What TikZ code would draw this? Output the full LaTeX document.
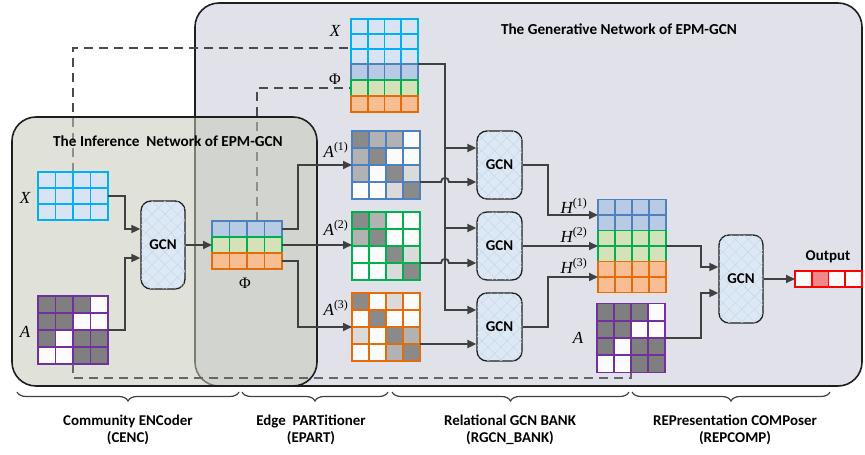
\documentclass[tikz,border=0pt]{standalone}
\usepackage{fontspec}
\setmainfont{Carlito}
\newfontfamily\tnr{Liberation Serif}
\usetikzlibrary{arrows.meta,decorations.pathreplacing,patterns.meta,calc}

\definecolor{genfill}{HTML}{E1E2E9}
\definecolor{inffill}{HTML}{C7CABA}
\definecolor{boxline}{HTML}{1F1F1F}
\definecolor{linegray}{HTML}{404040}
\definecolor{dashgray}{HTML}{4A4A4A}
\definecolor{xb}{HTML}{00B0F0}
\definecolor{xf}{HTML}{D8E4F1}
\definecolor{bb}{HTML}{4F81BD}
\definecolor{bf}{HTML}{B7CCE4}
\definecolor{gb}{HTML}{00B050}
\definecolor{gf}{HTML}{D4E2BA}
\definecolor{ob}{HTML}{E46C0A}
\definecolor{of}{HTML}{F6BE92}
\definecolor{pb}{HTML}{7030A0}
\definecolor{pg}{HTML}{7F7F7F}
\definecolor{md}{HTML}{8A8A8A}
\definecolor{mm}{HTML}{B2B2B2}
\definecolor{ml}{HTML}{DADADA}
\definecolor{mw}{HTML}{FBFBFB}
\definecolor{rb}{HTML}{FF0000}
\definecolor{rf}{HTML}{F2878A}
\definecolor{gcnfill}{HTML}{DCE8F4}
\definecolor{gcnhatch}{HTML}{C4D5E9}

\pgfdeclarelayer{genpanel}
\pgfdeclarelayer{skip}
\pgfdeclarelayer{infpanel}
\pgfsetlayers{genpanel,skip,infpanel,main}

% 4-column grid, one colour per cell (row by row)
\newcommand{\cellmat}[8]{%
  \node[inner sep=0pt, outer sep=0pt, minimum width=4*#4bp, minimum height=#6*#5bp, anchor=north west] (#1) at (#2,#3) {};
  \foreach \cc [count=\k from 0] in {#8}{%
    \pgfmathtruncatemacro{\ci}{mod(\k,4)}%
    \pgfmathtruncatemacro{\cj}{div(\k,4)}%
    \draw[cellline, draw=#7, fill=\cc] ({#2+\ci*#4},{#3+\cj*#5}) rectangle ++(#4,#5);
  }%
}
% 4-column grid with a single fill colour
\newcommand{\unimat}[8]{%
  \node[inner sep=0pt, outer sep=0pt, minimum width=4*#4bp, minimum height=#6*#5bp, anchor=north west] (#1) at (#2,#3) {};
  \foreach \ci in {0,...,3}{%
    \foreach \cj in {1,...,#6}{%
      \draw[cellline, draw=#7, fill=#8] ({#2+\ci*#4},{#3+(\cj-1)*#5}) rectangle ++(#4,#5);
    }%
  }%
}

\begin{document}
\begin{tikzpicture}[x=1bp, y=-1bp,
  cellline/.style={line width=1.6bp},
  panel/.style={draw=boxline, line width=1.6bp, rounded corners=24bp},
  gcn/.style={draw=boxline, line width=1.3bp, rounded corners=10bp, fill=gcnfill,
    inner sep=0pt, font=\fontsize{15}{15}\selectfont\bfseries,
    postaction={pattern={Lines[angle=45,distance=9pt,line width=0.4pt]}, pattern color=gcnhatch},
    postaction={pattern={Lines[angle=-45,distance=9pt,line width=0.4pt]}, pattern color=gcnhatch}},
  gcnbig/.style={gcn, minimum width=44bp, minimum height=88bp},
  gcnsmall/.style={gcn, minimum width=45bp, minimum height=68bp},
  link/.style={draw=linegray, line width=1.8bp},
  arr/.style={link, -{Triangle[length=9bp,width=8bp]}},
  dashline/.style={draw=dashgray, line width=1.7bp, dash pattern=on 9bp off 6bp},
  title/.style={font=\fontsize{15.3}{17}\selectfont\bfseries, inner sep=0pt},
  mlbl/.style={font=\fontsize{17}{17}\selectfont\tnr\itshape, inner sep=0pt},
  glbl/.style={font=\fontsize{16}{16}\selectfont\tnr, inner sep=0pt},
  stage/.style={font=\fontsize{15}{16.5}\selectfont\bfseries, align=center, inner sep=0pt},
  bracestyle/.style={draw=linegray, line width=1.2bp, decorate, decoration={brace, mirror, amplitude=9bp}}
]
\useasboundingbox (0,0) rectangle (865,455);

% generative network panel
\begin{pgfonlayer}{genpanel}
\draw[panel, fill=genfill] (195,3) rectangle (862,386);
\end{pgfonlayer}

% inference network panel
\begin{pgfonlayer}{infpanel}
\draw[panel, fill=inffill, fill opacity=0.55] (12,117) rectangle (317,386);
\end{pgfonlayer}

\node[title] (tInf) at (168,141) {The Inference\ \ Network of EPM-GCN};
\node[title] (tGen) at (619,29) {The Generative Network of EPM-GCN};

% ---- community encoder
\unimat{xL}{38}{172}{17.5}{16}{3}{xb}{xf}
\cellmat{aL}{38}{296}{17.5}{17}{4}{pb}{pg,pg,pg,mw, pg,pg,mw,mw, pg,mw,pg,pg, mw,mw,pg,pg}
\node[mlbl] (lXL) at (25,198) {X};
\node[mlbl] (lAL) at (25,332) {A};
\node[gcnbig] (gcnE) at (163,245) {GCN};

% ---- edge partitioner
\unimat{phiB}{212}{221}{17.5}{16}{1}{bb}{bf}
\unimat{phiG}{212}{237}{17.5}{16}{1}{gb}{gf}
\unimat{phiO}{212}{253}{17.5}{16}{1}{ob}{of}
\node[glbl] (lPhi) at (245,283) {Φ};

% ---- relational inputs
\unimat{xT}{351}{19}{16.75}{15}{3}{xb}{xf}
\unimat{topB}{351}{64}{16.75}{16}{1}{bb}{bf}
\unimat{topG}{351}{80}{16.75}{16}{1}{gb}{gf}
\unimat{topO}{351}{96}{16.75}{16}{1}{ob}{of}
\node[mlbl] (lXT) at (335,31) {X};
\node[glbl] (lPhiT) at (335,79) {Φ};

\cellmat{a1}{352}{131}{17}{17}{4}{bb}{md,mm,mm,mw, mm,md,mw,mw, mm,mw,md,ml, mw,mw,ml,md}
\cellmat{a2}{352}{212}{17}{17}{4}{gb}{md,mm,mw,mw, mm,md,mw,mw, mw,mw,md,ml, mw,mw,ml,md}
\cellmat{a3}{352}{293}{17}{17}{4}{ob}{md,mw,ml,mw, mw,md,mw,mw, ml,mw,md,mm, mw,mw,mm,md}
\node[mlbl] (lA1) at (336,150) {A\textsuperscript{\upshape(1)}};
\node[mlbl] (lA2) at (336,228) {A\textsuperscript{\upshape(2)}};
\node[mlbl] (lA3) at (336,308) {A\textsuperscript{\upshape(3)}};

% ---- relational GCN bank
\node[gcnsmall] (g1) at (499.5,165) {GCN};
\node[gcnsmall] (g2) at (499.5,246) {GCN};
\node[gcnsmall] (g3) at (499.5,327) {GCN};

% ---- representation composer
\unimat{hB}{598}{199.5}{17}{15.5}{2}{bb}{bf}
\unimat{hG}{598}{230.5}{17}{15.5}{2}{gb}{gf}
\unimat{hO}{598}{261.5}{17}{15.5}{2}{ob}{of}
\node[mlbl] (lH1) at (574,206) {H\textsuperscript{\upshape(1)}};
\node[mlbl] (lH2) at (574,235) {H\textsuperscript{\upshape(2)}};
\node[mlbl] (lH3) at (574,266) {H\textsuperscript{\upshape(3)}};
\cellmat{aR}{597}{303.5}{17}{17.25}{4}{pb}{pg,pg,pg,mw, pg,pg,mw,mw, pg,mw,pg,pg, mw,mw,pg,pg}
\node[mlbl] (lAR) at (578,338) {A};
\node[gcnbig] (gF) at (741,279) {GCN};
\cellmat{outv}{795}{271}{16.75}{16}{1}{rb}{mw,rf,mw,mw}
\node[title, font=\fontsize{15}{15}\selectfont\bfseries] (lOut) at (828,257) {Output};

% skip links running beneath the inference panel
\begin{pgfonlayer}{skip}
\coordinate (dT) at ($(xT.west)+(0,6.5)$);
\draw[dashline] (xL.north) |- (dT);
\draw[dashline] ($(phiB.north)+(10,0)$) |- (topG.west);
\end{pgfonlayer}

% ---- connectors: encoder
\draw[arr] (xL.east) -- ++(17,0) |- ($(gcnE.west)+(0,-16)$);
\draw[arr] (aL.east) -- ++(17,0) |- ($(gcnE.west)+(0,13)$);
\draw[arr] (gcnE) -- (phiG);

% ---- connectors: partitioner
\draw[arr] (phiB.east) -- ++(16,0) |- (a1.west);
\draw[arr] (phiG.east) -- (phiG.east -| a2.west);
\draw[arr] (phiO.east) -- ++(16,0) |- (a3.west);

% ---- connectors: feature bus into the GCN bank
\coordinate (g1u) at ($(g1.west)+(0,-17)$);
\coordinate (g1d) at ($(g1.west)+(0,17)$);
\coordinate (g2u) at ($(g2.west)+(0,-18)$);
\coordinate (g2d) at ($(g2.west)+(0,17)$);
\coordinate (g3u) at ($(g3.west)+(0,-17)$);
\coordinate (g3d) at ($(g3.west)+(0,17)$);
\coordinate (bus) at ($(xT.south east)+(27,0)$);
\draw[arr] (xT.south east) -- (bus) |- (g3u);
\draw[arr] (bus |- g1u) -- (g1u);
\draw[arr] (bus |- g2u) -- (g2u);
\draw[arr] (a1.east |- g1d) -- ($(bus |- g1d)+(-4,0)$) .. controls +(0,-5.5) and +(0,-5.5) .. ($(bus |- g1d)+(4,0)$) -- (g1d);
\draw[arr] (a2.east |- g2d) -- ($(bus |- g2d)+(-4,0)$) .. controls +(0,-5.5) and +(0,-5.5) .. ($(bus |- g2d)+(4,0)$) -- (g2d);
\draw[arr] (a3.east |- g3d) -- (g3d);

% ---- connectors: bank to composer
\coordinate (jH) at ($(g1.east)+(25,0)$);
\draw[arr] (g1.east) -- (jH) |- (hB.west);
\draw[arr] (g2.east) -- (g2.east -| hG.west);
\draw[arr] (g3.east) -- (g3.east -| jH) |- (hO.west);

\coordinate (jF) at ($(gF.west)+(-17,0)$);
\draw[arr] (hG.east) -- (hG.east -| jF) |- ($(gF.west)+(0,-12)$);
\draw[arr] (aR.east) -- (aR.east -| jF) |- ($(gF.west)+(0,14)$);
\draw[arr] (gF) -- (outv);

% adjacency shared between encoder and composer
\draw[dashline, draw=dashgray!85] (aL.south) -- ++(0,14) -| (aR.south);

% ---- stage braces
\draw[bracestyle] (17,392) -- (239,392);
\draw[bracestyle] (242,392) -- (388,392);
\draw[bracestyle] (392,392) -- (629,392);
\draw[bracestyle] (632,392) -- (830,392);
\node[stage] (sCENC) at (128,430) {Community ENCoder\\(CENC)};
\node[stage] (sEPART) at (311,430) {Edge\ \ PARTitioner\\(EPART)};
\node[stage] (sRGCN) at (510,430) {Relational GCN BANK\\(RGCN\_BANK)};
\node[stage] (sREP) at (735,430) {REPresentation COMPoser\\(REPCOMP)};
\end{tikzpicture}
\end{document}
